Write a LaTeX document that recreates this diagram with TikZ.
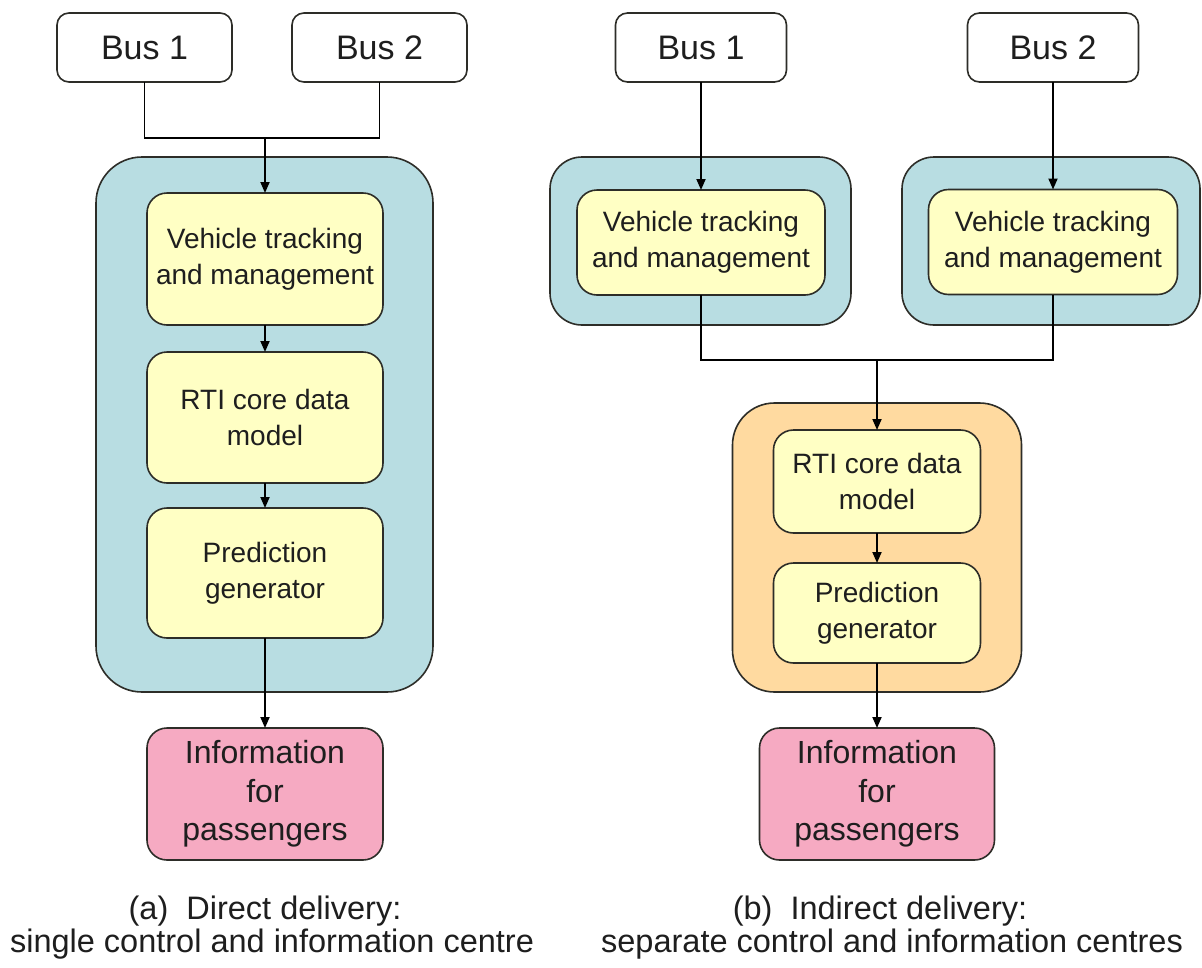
\documentclass[tikz,border=0pt]{standalone}
\usepackage{fontspec}
\setmainfont{Liberation Sans}
\usetikzlibrary{arrows.meta}
\definecolor{cblue}{RGB}{184,221,226}
\definecolor{cyel}{RGB}{255,255,196}
\definecolor{corange}{RGB}{255,218,160}
\definecolor{cpink}{RGB}{246,170,194}
\definecolor{cline}{RGB}{45,45,40}
\definecolor{ctext}{RGB}{30,30,30}
\begin{document}
\begin{tikzpicture}[x=1pt,y=-1pt,
  box/.style={draw=cline, line width=1.6pt, rectangle, inner sep=0pt, outer sep=0pt, align=center, text=ctext},
  busbox/.style={box, fill=white, rounded corners=12pt, minimum height=69pt, font=\fontsize{34}{38}\selectfont},
  inbox/.style={box, fill=cyel, rounded corners=20pt, font=\fontsize{28}{36}\selectfont},
  infobox/.style={box, fill=cpink, rounded corners=20pt, minimum width=235pt, minimum height=132pt, font=\fontsize{32}{38.5}\selectfont},
  cont/.style={box, fill=cblue},
  ocont/.style={box, fill=corange, rounded corners=42pt},
  capt/.style={inner sep=0pt, text=ctext, font=\fontsize{32.5}{36}\selectfont},
  conn/.style={draw=black, line width=1.8pt},
  arr/.style={conn, -{Triangle[length=11pt,width=9pt]}}
]
\fill[white] (0,0) rectangle (1202,967);
\useasboundingbox (0,0) rectangle (1202,967);

% ---------- (a) ----------
\node[cont, rounded corners=46pt, minimum width=337pt, minimum height=535pt] (contA) at (264.5,424.5) {};
\node[busbox, minimum width=175pt] (busA1) at (144.5,47.5) {Bus 1};
\node[busbox, minimum width=175pt] (busA2) at (379.5,47.5) {Bus 2};
\node[inbox, minimum width=236pt, minimum height=132pt] (vtA) at (265,259) {Vehicle tracking\\and management};
\node[inbox, minimum width=236pt, minimum height=131pt] (rtiA) at (265,417.5) {RTI core data\\model};
\node[inbox, minimum width=236pt, minimum height=130pt] (predA) at (265,573) {Prediction\\generator};
\node[infobox, minimum width=236pt] (infoA) at (265,794) {Information\\for\\passengers};
\coordinate (mA) at (265,138);
\draw[conn] (busA1.south) |- (mA);
\draw[conn] (busA2.south) |- (mA);
\draw[arr] (mA) -- (vtA.north);
\draw[arr] (vtA.south) -- (rtiA.north);
\draw[arr] (rtiA.south) -- (predA.north);
\draw[arr] (predA.south) -- (infoA.north);
\node[capt] (capA1) at (265,911) {(a)\ \ Direct delivery:};
\node[capt] (capA2) at (272,944) {single control and information centre};

% ---------- (b) ----------
\node[cont, rounded corners=32pt, minimum width=301pt, minimum height=168pt] (contB1) at (700.5,241) {};
\node[cont, rounded corners=32pt, minimum width=298pt, minimum height=168pt] (contB2) at (1051,241) {};
\node[ocont, minimum width=289pt, minimum height=289pt] (contOr) at (877,547.5) {};
\node[busbox, minimum width=171pt] (busB1) at (701,47.5) {Bus 1};
\node[busbox, minimum width=171pt] (busB2) at (1053,47.5) {Bus 2};
\node[inbox, minimum width=248pt, minimum height=105pt] (vtB1) at (701,242.5) {Vehicle tracking\\and management};
\node[inbox, minimum width=249pt, minimum height=105pt] (vtB2) at (1053,242) {Vehicle tracking\\and management};
\node[inbox, minimum width=207pt, minimum height=103pt] (rtiB) at (877,481.5) {RTI core data\\model};
\node[inbox, minimum width=207pt, minimum height=100pt] (predB) at (877,613) {Prediction\\generator};
\node[infobox] (infoB) at (877,794) {Information\\for\\passengers};
\draw[arr] (busB1.south) -- (vtB1.north);
\draw[arr] (busB2.south) -- (vtB2.north);
\coordinate (mB) at (877,360);
\draw[conn] (vtB1.south) |- (mB);
\draw[conn] (vtB2.south) |- (mB);
\draw[arr] (mB) -- (rtiB.north);
\draw[arr] (rtiB.south) -- (predB.north);
\draw[arr] (predB.south) -- (infoB.north);
\node[capt] (capB1) at (880,911) {(b)\ \ Indirect delivery:};
\node[capt] (capB2) at (892,944) {separate control and information centres};
\end{tikzpicture}
\end{document}
